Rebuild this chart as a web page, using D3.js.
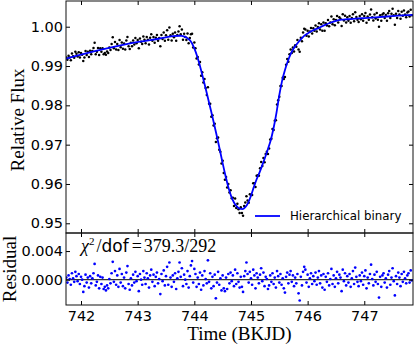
<!DOCTYPE html>
<html>
<head>
<meta charset="utf-8">
<script src="https://cdn.jsdelivr.net/npm/d3@7"></script>
<style>
  html, body { margin: 0; padding: 0; background: #fff; }
  svg { display: block; }
  .tick text { font-family: "DejaVu Sans", sans-serif; font-size: 14.5px; fill: #000; }
  .tick line { stroke: #000; }
</style>
</head>
<body>
<svg id="chart" width="415" height="345"></svg>
<script>
// observation times (BKJD)
const time = [
  741.74,741.76,741.78,741.80,741.82,741.84,741.86,741.88,741.90,741.92,
  741.94,741.96,741.98,742.00,742.02,742.04,742.06,742.08,742.10,742.12,
  742.14,742.16,742.18,742.20,742.22,742.24,742.26,742.28,742.30,742.32,
  742.34,742.36,742.38,742.40,742.42,742.44,742.46,742.48,742.50,742.52,
  742.54,742.56,742.58,742.60,742.62,742.64,742.66,742.68,742.70,742.72,
  742.74,742.76,742.78,742.80,742.82,742.84,742.86,742.88,742.90,742.92,
  742.94,742.96,742.98,743.00,743.02,743.04,743.06,743.08,743.10,743.12,
  743.14,743.16,743.18,743.20,743.22,743.24,743.26,743.28,743.30,743.32,
  743.34,743.36,743.38,743.40,743.42,743.44,743.46,743.48,743.50,743.52,
  743.54,743.56,743.58,743.60,743.62,743.64,743.66,743.68,743.70,743.72,
  743.74,743.76,743.78,743.80,743.82,743.84,743.86,743.88,743.90,743.92,
  743.94,743.96,743.98,744.00,744.02,744.04,744.06,744.08,744.10,744.12,
  744.14,744.16,744.18,744.20,744.22,744.24,744.26,744.28,744.30,744.32,
  744.34,744.36,744.38,744.40,744.42,744.44,744.46,744.48,744.50,744.52,
  744.54,744.56,744.58,744.60,744.62,744.64,744.66,744.68,744.70,744.72,
  744.74,744.76,744.78,744.80,744.82,744.84,744.86,744.88,744.90,744.92,
  744.94,744.96,744.98,745.00,745.02,745.04,745.06,745.08,745.10,745.12,
  745.14,745.16,745.18,745.20,745.22,745.24,745.26,745.28,745.30,745.32,
  745.34,745.36,745.38,745.40,745.42,745.44,745.46,745.48,745.50,745.52,
  745.54,745.56,745.58,745.60,745.62,745.64,745.66,745.68,745.70,745.72,
  745.74,745.76,745.78,745.80,745.82,745.84,745.86,745.88,745.90,745.92,
  745.94,745.96,745.98,746.00,746.02,746.04,746.06,746.08,746.10,746.12,
  746.14,746.16,746.18,746.20,746.22,746.24,746.26,746.28,746.30,746.32,
  746.34,746.36,746.38,746.40,746.42,746.44,746.46,746.48,746.50,746.52,
  746.54,746.56,746.58,746.60,746.62,746.64,746.66,746.68,746.70,746.72,
  746.74,746.76,746.78,746.80,746.82,746.84,746.86,746.88,746.90,746.92,
  746.94,746.96,746.98,747.00,747.02,747.04,747.06,747.08,747.10,747.12,
  747.14,747.16,747.18,747.20,747.22,747.24,747.26,747.28,747.30,747.32,
  747.34,747.36,747.38,747.40,747.42,747.44,747.46,747.48,747.50,747.52,
  747.54,747.56,747.58,747.60,747.62,747.64,747.66,747.68,747.70,747.72,
  747.74,747.76,747.78,747.80,747.82,747.84
];

// measured relative flux
const flux = [
  0.9922,0.9916,0.9926,0.9922,0.9915,0.9932,0.9925,0.9921,0.9936,0.9931,
  0.9924,0.9935,0.9922,0.9933,0.9929,0.9913,0.9922,0.9938,0.9928,0.9936,
  0.9923,0.9939,0.9930,0.9938,0.9946,0.9959,0.9930,0.9936,0.9946,0.9928,
  0.9945,0.9936,0.9945,0.9930,0.9933,0.9929,0.9937,0.9933,0.9947,0.9941,
  0.9956,0.9973,0.9945,0.9961,0.9942,0.9956,0.9941,0.9966,0.9948,0.9960,
  0.9944,0.9957,0.9942,0.9965,0.9974,0.9950,0.9943,0.9959,0.9950,0.9965,
  0.9955,0.9971,0.9958,0.9966,0.9945,0.9970,0.9962,0.9956,0.9975,0.9967,
  0.9958,0.9974,0.9967,0.9955,0.9972,0.9981,0.9964,0.9974,0.9959,0.9972,
  0.9979,0.9964,0.9971,0.9950,0.9979,0.9969,0.9985,0.9964,0.9978,0.9991,
  0.9967,0.9998,0.9978,0.9965,0.9982,0.9973,0.9985,0.9964,0.9979,0.9988,
  1.0001,0.9981,0.9993,0.9967,0.9982,0.9974,0.9966,0.9983,0.9958,0.9971,
  0.9981,0.9982,0.9947,0.9960,0.9945,0.9919,0.9923,0.9904,0.9910,0.9875,
  0.9884,0.9858,0.9867,0.9844,0.9826,0.9846,0.9804,0.9804,0.9771,0.9775,
  0.9749,0.9753,0.9707,0.9716,0.9718,0.9687,0.9682,0.9652,0.9659,0.9628,
  0.9611,0.9618,0.9591,0.9600,0.9578,0.9584,0.9564,0.9565,0.9544,0.9563,
  0.9539,0.9550,0.9536,0.9526,0.9541,0.9526,0.9519,0.9544,0.9553,0.9569,
  0.9558,0.9552,0.9574,0.9572,0.9572,0.9602,0.9602,0.9592,0.9621,0.9622,
  0.9621,0.9640,0.9656,0.9646,0.9666,0.9655,0.9676,0.9682,0.9676,0.9690,
  0.9713,0.9715,0.9740,0.9737,0.9761,0.9762,0.9802,0.9813,0.9822,0.9849,
  0.9849,0.9870,0.9867,0.9872,0.9903,0.9918,0.9911,0.9930,0.9942,0.9933,
  0.9947,0.9937,0.9953,0.9949,0.9966,0.9942,0.9936,0.9972,0.9963,0.9985,
  0.9995,0.9993,0.9977,0.9990,0.9975,0.9988,0.9997,0.9983,0.9996,0.9990,
  1.0003,0.9988,0.9999,1.0009,0.9993,1.0006,0.9990,1.0011,0.9990,1.0009,
  1.0003,1.0017,1.0001,1.0011,1.0026,1.0006,1.0019,1.0004,1.0017,1.0027,
  1.0011,1.0024,1.0020,1.0002,1.0032,1.0016,1.0028,1.0011,1.0024,1.0015,
  1.0027,1.0010,1.0022,1.0032,1.0014,1.0037,1.0025,1.0018,1.0012,1.0027,
  1.0019,1.0032,1.0015,1.0027,1.0035,1.0010,1.0026,1.0018,1.0031,1.0044,
  1.0024,1.0016,1.0031,1.0021,1.0035,1.0018,1.0000,1.0029,1.0015,1.0031,
  1.0034,1.0022,1.0030,1.0015,1.0034,1.0040,1.0022,1.0033,1.0046,1.0029,
  1.0005,1.0033,1.0022,1.0040,1.0031,1.0020,1.0038,1.0028,1.0041,1.0031,
  1.0024,1.0036,1.0039,1.0026,1.0043,1.0029
];

// data minus model
const resid = [
  0.0003,-0.0004,0.0006,0.0001,-0.0007,0.0009,0.0002,-0.0003,0.0011,0.0005,
  -0.0002,0.0008,-0.0006,0.0004,0.0000,-0.0017,-0.0009,0.0007,-0.0004,0.0003,
  -0.0011,0.0005,-0.0005,0.0002,0.0009,0.0022,-0.0008,-0.0003,0.0006,-0.0012,
  0.0004,-0.0006,0.0003,-0.0013,-0.0010,-0.0015,-0.0008,-0.0012,0.0001,-0.0005,
  0.0009,0.0025,-0.0003,0.0012,-0.0007,0.0006,-0.0010,0.0015,-0.0004,0.0008,
  -0.0009,0.0003,-0.0012,0.0010,0.0019,-0.0006,-0.0014,0.0002,-0.0008,0.0007,
  -0.0004,0.0011,-0.0002,0.0005,-0.0016,0.0008,0.0000,-0.0007,0.0012,0.0003,
  -0.0006,0.0009,0.0002,-0.0011,0.0006,0.0014,-0.0003,0.0007,-0.0009,0.0004,
  0.0010,-0.0005,0.0001,-0.0020,0.0008,-0.0002,0.0013,-0.0008,0.0005,0.0018,
  -0.0007,0.0024,0.0003,-0.0010,0.0006,-0.0003,0.0009,-0.0013,0.0002,0.0011,
  0.0024,0.0004,0.0016,-0.0009,0.0007,0.0000,-0.0006,0.0012,-0.0011,0.0005,
  0.0020,0.0026,-0.0004,0.0015,0.0008,-0.0010,0.0003,-0.0006,0.0010,-0.0014,
  0.0006,-0.0008,0.0012,0.0001,-0.0005,0.0027,-0.0003,0.0009,-0.0012,0.0004,
  -0.0009,0.0007,-0.0026,-0.0004,0.0011,-0.0007,0.0002,-0.0015,0.0006,-0.0012,
  -0.0016,0.0003,-0.0013,0.0008,-0.0005,0.0010,-0.0002,0.0006,-0.0009,0.0014,
  -0.0006,0.0009,-0.0003,-0.0011,0.0004,-0.0010,-0.0017,0.0005,0.0012,0.0024,
  0.0008,-0.0004,0.0011,0.0002,-0.0007,0.0014,0.0006,-0.0012,0.0009,0.0003,
  -0.0005,0.0007,0.0016,-0.0002,0.0010,-0.0009,0.0004,0.0001,-0.0013,-0.0008,
  0.0006,-0.0003,0.0009,-0.0006,0.0003,-0.0011,0.0012,0.0005,-0.0004,0.0008,
  -0.0007,0.0002,-0.0012,-0.0018,0.0004,0.0010,-0.0005,0.0007,0.0012,-0.0003,
  0.0006,-0.0009,0.0003,-0.0005,0.0008,-0.0019,-0.0029,0.0004,-0.0008,0.0011,
  0.0018,0.0014,-0.0004,0.0007,-0.0010,0.0002,0.0009,-0.0006,0.0005,-0.0002,
  0.0010,-0.0007,0.0003,0.0012,-0.0005,0.0006,-0.0011,0.0008,-0.0014,0.0004,
  -0.0003,0.0009,-0.0008,0.0001,0.0015,-0.0006,0.0006,-0.0010,0.0002,0.0011,
  -0.0005,0.0007,0.0003,-0.0016,0.0014,-0.0002,0.0009,-0.0008,0.0005,-0.0004,
  0.0008,-0.0010,0.0002,0.0012,-0.0006,0.0017,0.0004,-0.0003,-0.0009,0.0006,
  -0.0002,0.0010,-0.0007,0.0005,0.0013,-0.0012,0.0003,-0.0005,0.0008,0.0021,
  0.0001,-0.0008,0.0007,-0.0003,0.0011,-0.0006,-0.0025,0.0004,-0.0010,0.0006,
  0.0009,-0.0004,0.0002,-0.0011,0.0007,0.0012,-0.0007,0.0003,0.0016,-0.0002,
  -0.0022,0.0005,-0.0006,0.0010,0.0003,-0.0009,0.0008,-0.0003,0.0011,0.0002,
  -0.0005,0.0006,0.0009,-0.0004,0.0013,-0.0001
];

// hierarchical binary model curve
const modelTime = [
  741.735,742.34,743.04,743.39,743.62,743.74,743.78,743.80,743.84,743.88,743.92,744.00,
  744.05,744.10,744.15,744.20,744.25,744.30,744.35,744.40,744.45,744.50,744.55,744.60,
  744.65,744.70,744.75,744.80,744.85,744.90,744.95,
  745.00,745.05,745.10,745.15,745.20,745.25,745.30,745.35,745.40,745.45,745.50,745.55,
  745.60,745.65,745.70,745.75,745.80,745.85,745.90,745.95,
  746.00,746.10,746.20,746.30,746.40,746.50,746.60,746.70,746.80,746.90,747.00,
  747.20,747.40,747.60,747.86
];
const modelFlux = [
  0.9919,0.9941,0.9962,0.9970,0.9976,0.9977,0.99767,0.9976,0.9974,0.99705,0.9966,0.9945,
  0.9925,0.9900,0.9872,0.9843,0.9813,0.9783,0.9752,0.9720,0.9687,0.9653,0.9621,0.9592,
  0.9569,0.9553,0.9543,0.9537,0.9536,0.9541,0.9552,
  0.9570,0.9592,0.9612,0.9629,0.9648,0.9668,0.9689,0.9712,0.9743,0.9781,0.9826,0.9863,
  0.9890,0.9912,0.9930,0.9944,0.9954,0.9963,0.9971,0.9978,
  0.9983,0.9991,0.9997,1.0004,1.0010,1.0015,1.0018,1.0019,1.0020,1.0021,1.0022,
  1.0024,1.0026,1.0028,1.0030
];

const timeTicks = [742, 743, 744, 745, 746, 747];
const fluxTicks = [0.95, 0.96, 0.97, 0.98, 0.99, 1.00];
const residTicks = [0.000, 0.004];
const chiText = { chi: "\u03C7", sup: "2", dof: "dof", eq: "=", val: "379.3/292" };
const legendLabel = "Hierarchical binary";

const svg = d3.select("#chart");
const pLeft = 66, pRight = 413, pTop = 1, pMid = 233, pBottom = 305;

const x = d3.scaleLinear().domain([741.735, 747.86]).range([pLeft, pRight]);
const yMain = d3.scaleLinear().domain([0.94753, 1.00654]).range([pMid, pTop]);
const yRes = d3.scaleLinear().domain([-0.00353, 0.00652]).range([pBottom, pMid]);

const defs = svg.append("defs");
defs.append("clipPath").attr("id", "clipMain")
  .append("rect").attr("x", pLeft).attr("y", pTop).attr("width", pRight - pLeft).attr("height", pMid - pTop);
defs.append("clipPath").attr("id", "clipRes")
  .append("rect").attr("x", pLeft).attr("y", pMid).attr("width", pRight - pLeft).attr("height", pBottom - pMid);

// --- main panel
const gMain = svg.append("g").attr("clip-path", "url(#clipMain)");
gMain.selectAll("circle").data(time).join("circle")
  .attr("cx", d => x(d))
  .attr("cy", (d, i) => yMain(flux[i]))
  .attr("r", 1.25)
  .attr("fill", "#000");

const line = d3.line()
  .x((d, i) => x(modelTime[i]))
  .y(d => yMain(d))
  .curve(d3.curveMonotoneX);
gMain.append("path").datum(modelFlux)
  .attr("d", line)
  .attr("fill", "none")
  .attr("stroke", "#0000ff")
  .attr("stroke-width", 1.8);

// --- residual panel
const gRes = svg.append("g").attr("clip-path", "url(#clipRes)");
gRes.append("line")
  .attr("x1", pLeft).attr("x2", pRight)
  .attr("y1", yRes(0)).attr("y2", yRes(0))
  .attr("stroke", "#000").attr("stroke-width", 1);
gRes.selectAll("circle").data(time).join("circle")
  .attr("cx", d => x(d))
  .attr("cy", (d, i) => yRes(resid[i]))
  .attr("r", 1.35)
  .attr("fill", "#0000ff");

// --- axes (ticks point inward)
function styleAxis(g) {
  g.select(".domain").remove();
}
svg.append("g").attr("transform", `translate(${pLeft},0)`)
  .call(d3.axisLeft(yMain).tickValues(fluxTicks).tickFormat(d3.format(".2f")).tickSizeInner(-4).tickSizeOuter(0).tickPadding(3))
  .call(styleAxis);
svg.append("g").attr("transform", `translate(${pRight},0)`)
  .call(d3.axisRight(yMain).tickValues(fluxTicks).tickFormat("").tickSizeInner(-4).tickSizeOuter(0))
  .call(styleAxis);
svg.append("g").attr("transform", `translate(0,${pTop})`)
  .call(d3.axisTop(x).tickValues(timeTicks).tickFormat("").tickSizeInner(-4).tickSizeOuter(0))
  .call(styleAxis);
svg.append("g").attr("transform", `translate(0,${pMid})`)
  .call(d3.axisBottom(x).tickValues(timeTicks).tickFormat("").tickSizeInner(-4).tickSizeOuter(0))
  .call(styleAxis);

svg.append("g").attr("transform", `translate(${pLeft},0)`)
  .call(d3.axisLeft(yRes).tickValues(residTicks).tickFormat(d3.format(".3f")).tickSizeInner(-4).tickSizeOuter(0).tickPadding(3))
  .call(styleAxis);
svg.append("g").attr("transform", `translate(${pRight},0)`)
  .call(d3.axisRight(yRes).tickValues(residTicks).tickFormat("").tickSizeInner(-4).tickSizeOuter(0))
  .call(styleAxis);
svg.append("g").attr("transform", `translate(0,${pMid})`)
  .call(d3.axisTop(x).tickValues(timeTicks).tickFormat("").tickSizeInner(-4).tickSizeOuter(0))
  .call(styleAxis);
svg.append("g").attr("transform", `translate(0,${pBottom})`)
  .call(d3.axisBottom(x).tickValues(timeTicks).tickFormat(d3.format("d")).tickSizeInner(-4).tickSizeOuter(0).tickPadding(6))
  .call(styleAxis);

// frames
[[pTop, pMid], [pMid, pBottom]].forEach(([y0, y1]) => {
  svg.append("rect")
    .attr("x", pLeft).attr("y", y0)
    .attr("width", pRight - pLeft).attr("height", y1 - y0)
    .attr("fill", "none").attr("stroke", "#111").attr("stroke-width", 1);
});

// axis labels
const serif = "'Liberation Serif', 'Times New Roman', serif";
svg.append("text")
  .attr("transform", `translate(24,${(pTop + pMid) / 2 + 3}) rotate(-90)`)
  .attr("text-anchor", "middle")
  .style("font-family", serif).style("font-size", "19px")
  .text("Relative Flux");
svg.append("text")
  .attr("transform", `translate(16,${(pMid + pBottom) / 2}) rotate(-90)`)
  .attr("text-anchor", "middle")
  .style("font-family", serif).style("font-size", "19px")
  .text("Residual");
svg.append("text")
  .attr("x", (pLeft + pRight) / 2).attr("y", 340)
  .attr("text-anchor", "middle")
  .style("font-family", serif).style("font-size", "19px")
  .text("Time (BKJD)");

// chi-square annotation
const chi = svg.append("text").attr("x", 81).attr("y", 252)
  .style("font-family", serif).style("font-size", "18px");
chi.append("tspan").style("font-style", "italic").text(chiText.chi);
chi.append("tspan").attr("dy", -7).style("font-size", "11px").text(chiText.sup);
chi.append("tspan").attr("dy", 7).attr("dx", 2).text("/");
chi.append("tspan").style("font-family", "'DejaVu Sans', sans-serif").style("font-size", "17px").text(chiText.dof);
chi.append("tspan").attr("dx", 3).text(chiText.eq);
chi.append("tspan").attr("dx", 2).text(chiText.val);

// legend
const leg = svg.append("g").attr("transform", "translate(255,216)");
leg.append("line").attr("x1", 0).attr("x2", 25).attr("y1", 0).attr("y2", 0)
  .attr("stroke", "#0000ff").attr("stroke-width", 1.8);
leg.append("text").attr("x", 35).attr("y", 4.3)
  .style("font-family", "'DejaVu Sans', sans-serif").style("font-size", "11.8px")
  .text(legendLabel);
</script>
</body>
</html>
